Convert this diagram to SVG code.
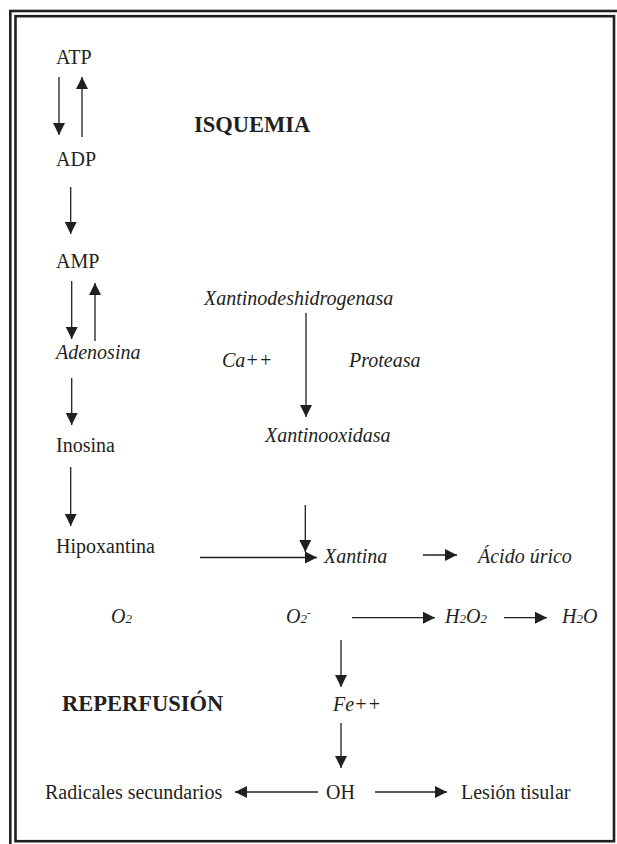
<svg xmlns="http://www.w3.org/2000/svg" width="617" height="844" viewBox="0 0 617 844">
<style>
.t{font-family:"Liberation Serif","Times New Roman",serif;font-size:20px;fill:#231f20}
.i{font-style:italic}
.b{font-weight:bold;font-size:22.5px}
.sm{font-size:13px}
.sup{font-size:11px}
.c line{stroke:#231f20;stroke-width:1.3;marker-end:url(#ah)}
.frame{fill:none;stroke:#231f20;stroke-width:2.6}
</style>
<defs>
<marker id="ah" markerWidth="12" markerHeight="12" refX="12" refY="6" orient="auto" markerUnits="userSpaceOnUse">
<path d="M0,0 L12,6 L0,12 z" fill="#231f20"/>
</marker>
</defs>
<rect width="617" height="844" fill="#fff"/>
<g id="frame">
<rect class="frame" x="10.3" y="11" width="612" height="840"/>
<rect class="frame" x="15.5" y="16.2" width="598.5" height="825"/>
</g>
<g id="atp"><text class="t" x="56" y="64">ATP</text></g>
<g id="adp"><text class="t" x="56" y="166">ADP</text></g>
<g id="isquemia"><text class="t b" x="194" y="132">ISQUEMIA</text></g>
<g id="amp"><text class="t" x="56" y="268">AMP</text></g>
<g id="adenosina"><text class="t i" x="56" y="359">Adenosina</text></g>
<g id="inosina"><text class="t" x="56" y="452">Inosina</text></g>
<g id="hipoxantina"><text class="t" x="56" y="553">Hipoxantina</text></g>
<g id="xdh"><text class="t i" x="204" y="305">Xantinodeshidrogenasa</text></g>
<g id="ca"><text class="t i" x="222" y="367">Ca++</text></g>
<g id="proteasa"><text class="t i" x="349" y="367">Proteasa</text></g>
<g id="xo"><text class="t i" x="265" y="442">Xantinooxidasa</text></g>
<g id="xantina"><text class="t i" x="324" y="563">Xantina</text></g>
<g id="acido"><text class="t i" x="478" y="563">Ácido úrico</text></g>
<g id="o2"><text class="t i" x="111" y="623">O<tspan class="sm">2</tspan></text></g>
<g id="o2m"><text class="t i" x="286" y="623">O<tspan class="sm">2</tspan><tspan class="sup" dy="-7">-</tspan></text></g>
<g id="h2o2"><text class="t i" x="445" y="623">H<tspan class="sm">2</tspan>O<tspan class="sm">2</tspan></text></g>
<g id="h2o"><text class="t i" x="562" y="623">H<tspan class="sm">2</tspan>O</text></g>
<g id="reperfusion"><text class="t b" x="62" y="711">REPERFUSIÓN</text></g>
<g id="fe"><text class="t i" x="333" y="711">Fe++</text></g>
<g id="oh"><text class="t" x="326" y="799">OH</text></g>
<g id="radicales"><text class="t" x="45" y="799">Radicales secundarios</text></g>
<g id="lesion"><text class="t" x="461" y="799">Lesión tisular</text></g>
<g id="connectors" class="c">
<line x1="59" y1="77" x2="59" y2="135"/>
<line x1="82" y1="137" x2="82" y2="77"/>
<line x1="70.7" y1="187" x2="70.7" y2="234"/>
<line x1="71.7" y1="281" x2="71.7" y2="339"/>
<line x1="95" y1="341" x2="95" y2="283"/>
<line x1="71.7" y1="378" x2="71.7" y2="425"/>
<line x1="70.7" y1="467" x2="70.7" y2="526"/>
<line x1="200" y1="557.5" x2="317" y2="557.5"/>
<line x1="305.3" y1="505" x2="305.3" y2="552"/>
<line x1="306" y1="313" x2="306" y2="417"/>
<line x1="423" y1="555" x2="457" y2="555"/>
<line x1="352" y1="617.7" x2="435" y2="617.7"/>
<line x1="504" y1="617.7" x2="547" y2="617.7"/>
<line x1="341" y1="640" x2="341" y2="687"/>
<line x1="341" y1="723" x2="341" y2="768"/>
<line x1="318" y1="792" x2="235" y2="792"/>
<line x1="375" y1="792" x2="447" y2="792"/>
</g>
</svg>
